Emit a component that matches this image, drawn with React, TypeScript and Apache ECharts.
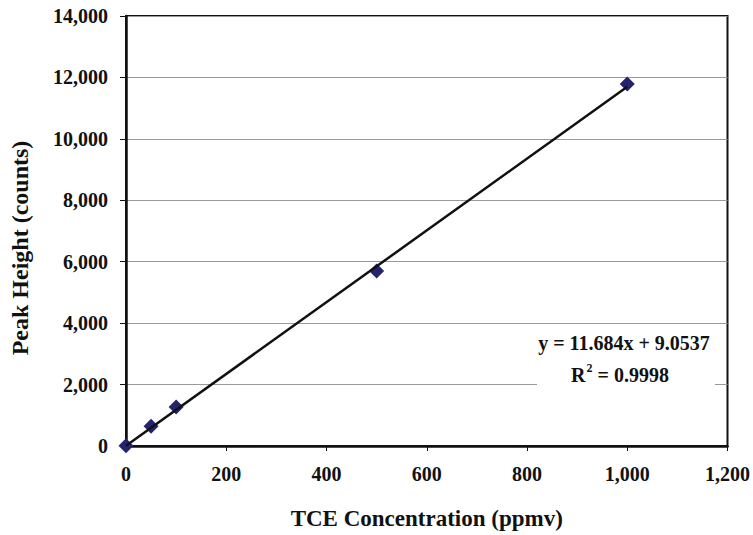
import React, { useEffect, useRef } from "react";
import * as echarts from "echarts";

const concentrations = [0, 50, 100, 500, 1000];
const peakHeights = [10, 640, 1270, 5700, 11790];
const trendX = [0, 1000];
const trendY = [9.05, 11693.05];
const equationText = "y = 11.684x + 9.0537";
const r2Value = "0.9998";
const xTitle = "TCE Concentration (ppmv)";
const yTitle = "Peak Height (counts)";

export default function App() {
  const ref = useRef<HTMLDivElement>(null);
  useEffect(() => {
    const chart = echarts.init(ref.current!, null, { renderer: "svg" });
    const font = "Liberation Serif";
    chart.setOption({
      animation: false,
      backgroundColor: "#fff",
      grid: {
        left: 126,
        right: 25,
        top: 16,
        bottom: 88,
        show: true,
        borderColor: "#111",
        borderWidth: 2,
      },
      xAxis: {
        type: "value",
        min: 0,
        max: 1200,
        interval: 200,
        name: xTitle,
        nameLocation: "middle",
        nameGap: 61,
        nameTextStyle: { fontFamily: font, fontWeight: "bold", fontSize: 23, color: "#111" },
        axisLine: { show: true, lineStyle: { color: "#111", width: 2.5 } },
        axisTick: { show: true, length: 5, lineStyle: { color: "#111", width: 1 } },
        axisLabel: {
          fontFamily: font,
          fontWeight: "bold",
          fontSize: 20,
          color: "#111",
          margin: 18,
          formatter: (v: number) => v.toLocaleString("en-US"),
        },
        splitLine: { show: false },
      },
      yAxis: {
        type: "value",
        min: 0,
        max: 14000,
        interval: 2000,
        axisLine: { show: true, lineStyle: { color: "#111", width: 2.5 } },
        axisTick: { show: true, length: 6, lineStyle: { color: "#111", width: 1 } },
        axisLabel: {
          fontFamily: font,
          fontWeight: "bold",
          fontSize: 20,
          color: "#111",
          margin: 18,
          formatter: (v: number) => v.toLocaleString("en-US"),
        },
        splitLine: { show: true, lineStyle: { color: "#999", width: 1 } },
      },
      series: [
        {
          type: "line",
          data: trendX.map((x, i) => [x, trendY[i]]),
          showSymbol: false,
          symbol: "none",
          lineStyle: { color: "#111", width: 2.5 },
          z: 3,
          silent: true,
        },
        {
          type: "scatter",
          data: concentrations.map((x, i) => [x, peakHeights[i]]),
          symbol: "diamond",
          symbolSize: [15, 15],
          itemStyle: { color: "#24246e", opacity: 1 },
          z: 2,
        },
      ],
      graphic: [
        {
          type: "text",
          x: 20,
          y: 248,
          rotation: Math.PI / 2,
          style: {
            text: yTitle,
            fontFamily: font,
            fontWeight: "bold",
            fontSize: 24,
            fill: "#111",
            align: "center",
            verticalAlign: "middle",
          },
        },
        {
          type: "rect",
          shape: { x: 537, y: 327, width: 178, height: 68 },
          style: { fill: "#fff" },
          z: 10,
        },
        {
          type: "text",
          x: 624,
          y: 343,
          z: 11,
          style: {
            text: equationText,
            fontFamily: font,
            fontWeight: "bold",
            fontSize: 20,
            fill: "#111",
            align: "center",
            verticalAlign: "middle",
          },
        },
        {
          type: "text",
          x: 620,
          y: 375,
          z: 11,
          style: {
            text: "{a|R}{s|2}{a| = " + r2Value + "}",
            fontFamily: font,
            fontWeight: "bold",
            fontSize: 20,
            fill: "#111",
            align: "center",
            verticalAlign: "middle",
            rich: {
              a: { fontFamily: font, fontWeight: "bold", fontSize: 20, fill: "#111", lineHeight: 22 },
              s: { fontFamily: font, fontWeight: "bold", fontSize: 12, fill: "#111", lineHeight: 22, padding: [0, 0, 14, 1] },
            },
          },
        },
      ],
    });
    return () => chart.dispose();
  }, []);
  return <div ref={ref} style={{ width: 753, height: 535, position: "absolute", left: 0, top: 0 }} />;
}
